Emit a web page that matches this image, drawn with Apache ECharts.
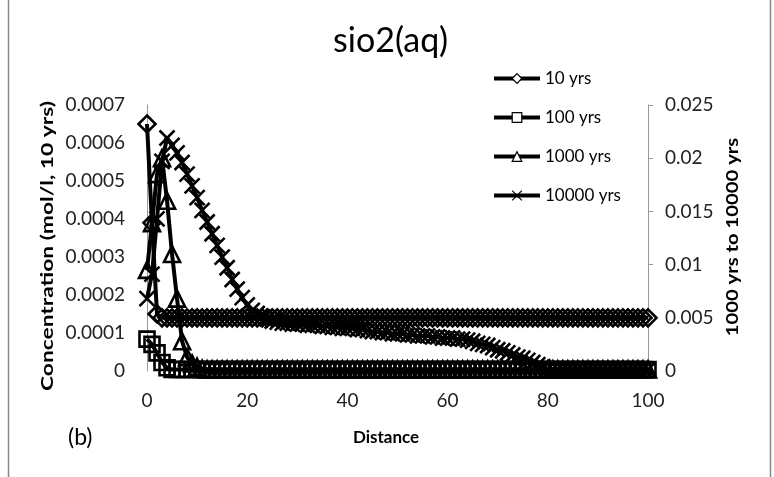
<!DOCTYPE html>
<html>
<head>
<meta charset="UTF-8">
<title>sio2(aq)</title>
<style>
    html, body { margin: 0; padding: 0; background: #fff; }
    #main { width: 774px; height: 477px; }
</style>
</head>
<body>
<div id="main"></div>
<script src="https://cdn.jsdelivr.net/npm/echarts@6/dist/echarts.min.js"></script>
<script>
// distance (x)
var dist = [
    0, 1, 2, 3, 4, 5, 6, 7, 8, 9,
    10, 11, 12, 13, 14, 15, 16, 17, 18, 19,
    20, 21, 22, 23, 24, 25, 26, 27, 28, 29,
    30, 31, 32, 33, 34, 35, 36, 37, 38, 39,
    40, 41, 42, 43, 44, 45, 46, 47, 48, 49,
    50, 51, 52, 53, 54, 55, 56, 57, 58, 59,
    60, 61, 62, 63, 64, 65, 66, 67, 68, 69,
    70, 71, 72, 73, 74, 75, 76, 77, 78, 79,
    80, 81, 82, 83, 84, 85, 86, 87, 88, 89,
    90, 91, 92, 93, 94, 95, 96, 97, 98, 99,
    100
];
// 10 yrs (left axis)
var yrs10 = [
    0.00065, 0.00039, 0.00015, 0.00014, 0.00014, 0.00014, 0.00014, 0.00014, 0.00014, 0.00014,
    0.00014, 0.00014, 0.00014, 0.00014, 0.00014, 0.00014, 0.00014, 0.00014, 0.00014, 0.00014,
    0.00014, 0.00014, 0.00014, 0.00014, 0.00014, 0.00014, 0.00014, 0.00014, 0.00014, 0.00014,
    0.00014, 0.00014, 0.00014, 0.00014, 0.00014, 0.00014, 0.00014, 0.00014, 0.00014, 0.00014,
    0.00014, 0.00014, 0.00014, 0.00014, 0.00014, 0.00014, 0.00014, 0.00014, 0.00014, 0.00014,
    0.00014, 0.00014, 0.00014, 0.00014, 0.00014, 0.00014, 0.00014, 0.00014, 0.00014, 0.00014,
    0.00014, 0.00014, 0.00014, 0.00014, 0.00014, 0.00014, 0.00014, 0.00014, 0.00014, 0.00014,
    0.00014, 0.00014, 0.00014, 0.00014, 0.00014, 0.00014, 0.00014, 0.00014, 0.00014, 0.00014,
    0.00014, 0.00014, 0.00014, 0.00014, 0.00014, 0.00014, 0.00014, 0.00014, 0.00014, 0.00014,
    0.00014, 0.00014, 0.00014, 0.00014, 0.00014, 0.00014, 0.00014, 0.00014, 0.00014, 0.00014,
    0.00014
];
// 100 yrs (right axis)
var yrs100 = [
    0.0030, 0.0025, 0.0017, 0.0008, 0.0003, 0.00014, 0.00014, 0.00014, 0.00014, 0.00014,
    0.00014, 0.00014, 0.00014, 0.00014, 0.00014, 0.00014, 0.00014, 0.00014, 0.00014, 0.00014,
    0.00014, 0.00014, 0.00014, 0.00014, 0.00014, 0.00014, 0.00014, 0.00014, 0.00014, 0.00014,
    0.00014, 0.00014, 0.00014, 0.00014, 0.00014, 0.00014, 0.00014, 0.00014, 0.00014, 0.00014,
    0.00014, 0.00014, 0.00014, 0.00014, 0.00014, 0.00014, 0.00014, 0.00014, 0.00014, 0.00014,
    0.00014, 0.00014, 0.00014, 0.00014, 0.00014, 0.00014, 0.00014, 0.00014, 0.00014, 0.00014,
    0.00014, 0.00014, 0.00014, 0.00014, 0.00014, 0.00014, 0.00014, 0.00014, 0.00014, 0.00014,
    0.00014, 0.00014, 0.00014, 0.00014, 0.00014, 0.00014, 0.00014, 0.00014, 0.00014, 0.00014,
    0.00014, 0.00014, 0.00014, 0.00014, 0.00014, 0.00014, 0.00014, 0.00014, 0.00014, 0.00014,
    0.00014, 0.00014, 0.00014, 0.00014, 0.00014, 0.00014, 0.00014, 0.00014, 0.00014, 0.00014,
    0.00014
];
// 1000 yrs (right axis)
var yrs1000 = [
    0.0095, 0.0139, 0.0185, 0.0200, 0.0160, 0.0110, 0.0068, 0.0028, 0.0013, 0.0007,
    0.0004, 0.0002, 0.00014, 0.00014, 0.00014, 0.00014, 0.00014, 0.00014, 0.00014, 0.00014,
    0.00014, 0.00014, 0.00014, 0.00014, 0.00014, 0.00014, 0.00014, 0.00014, 0.00014, 0.00014,
    0.00014, 0.00014, 0.00014, 0.00014, 0.00014, 0.00014, 0.00014, 0.00014, 0.00014, 0.00014,
    0.00014, 0.00014, 0.00014, 0.00014, 0.00014, 0.00014, 0.00014, 0.00014, 0.00014, 0.00014,
    0.00014, 0.00014, 0.00014, 0.00014, 0.00014, 0.00014, 0.00014, 0.00014, 0.00014, 0.00014,
    0.00014, 0.00014, 0.00014, 0.00014, 0.00014, 0.00014, 0.00014, 0.00014, 0.00014, 0.00014,
    0.00014, 0.00014, 0.00014, 0.00014, 0.00014, 0.00014, 0.00014, 0.00014, 0.00014, 0.00014,
    0.00014, 0.00014, 0.00014, 0.00014, 0.00014, 0.00014, 0.00014, 0.00014, 0.00014, 0.00014,
    0.00014, 0.00014, 0.00014, 0.00014, 0.00014, 0.00014, 0.00014, 0.00014, 0.00014, 0.00014,
    0.00014
];
// 10000 yrs (right axis)
var yrs10000 = [
    0.0068, 0.0091, 0.0143, 0.0197, 0.0219, 0.0212, 0.0205, 0.0196, 0.0185, 0.0174,
    0.0163, 0.0151, 0.0140, 0.0129, 0.0118, 0.0107, 0.0097, 0.0086, 0.0077, 0.0069,
    0.0062, 0.0057, 0.0054, 0.0051, 0.0049, 0.0047, 0.0046, 0.0045, 0.0045, 0.0044,
    0.0044, 0.0044, 0.0043, 0.0043, 0.0043, 0.0042, 0.0042, 0.0041, 0.0041, 0.0040,
    0.0040, 0.0040, 0.0039, 0.0039, 0.0038, 0.0037, 0.0037, 0.0036, 0.0036, 0.0035,
    0.0035, 0.0035, 0.0034, 0.0034, 0.0033, 0.0033, 0.0033, 0.0032, 0.0032, 0.0031,
    0.0031, 0.0031, 0.0030, 0.0030, 0.0029, 0.0028, 0.0026, 0.0025, 0.0024, 0.0022,
    0.0020, 0.0019, 0.0017, 0.0015, 0.0013, 0.0012, 0.0010, 0.0008, 0.0006, 0.0004,
    0.0002, 0.00015, 0.00014, 0.00014, 0.00014, 0.00014, 0.00014, 0.00014, 0.00014, 0.00014,
    0.00014, 0.00014, 0.00014, 0.00014, 0.00014, 0.00014, 0.00014, 0.00014, 0.00014, 0.00014,
    0.00014
];
var names = ['10 yrs', '100 yrs', '1000 yrs', '10000 yrs'];
var leftTicks = [0, 0.0007, 0.0001];
var rightTicks = [0, 0.025, 0.005];

var FONT = 'Lato';
var crossPath = 'path://M0,0L10,10M10,0L0,10';

function pairs(ys) {
    return dist.map(function (x, i) { return [x, ys[i]]; });
}

function makeSeries(name, ys, axisIdx, symbol, size) {
    return {
        name: name,
        type: 'line',
        yAxisIndex: axisIdx,
        data: pairs(ys),
        symbol: symbol,
        symbolSize: size,
        showSymbol: true,
        animation: false,
        lineStyle: { color: '#000', width: 4 },
        itemStyle: { color: 'rgba(255,255,255,0)', borderColor: '#000', borderWidth: 2.6 }
    };
}

function fmt(v) {
    return v === 0 ? '0' : String(+v.toFixed(4));
}

var chart = echarts.init(document.getElementById('main'));
chart.setOption({
    backgroundColor: '#fff',
    textStyle: { fontFamily: FONT },
    title: {
        text: 'sio2(aq)',
        left: 328,
        top: 19,
        textStyle: { fontFamily: FONT, fontSize: 34, fontWeight: 'normal', color: '#000' }
    },
    legend: {
        orient: 'vertical',
        left: 487,
        top: 65,
        itemWidth: 46,
        itemHeight: 12,
        itemGap: 22,
        data: names,
        lineStyle: { color: '#000', width: 4 },
        itemStyle: { color: '#fff', borderColor: '#000', borderWidth: 1.2 },
        textStyle: { fontFamily: FONT, fontSize: 17, color: '#000' }
    },
    grid: { left: 147, right: 126, top: 105, bottom: 106 },
    xAxis: {
        type: 'value',
        min: 0,
        max: 100,
        interval: 20,
        axisLine: { show: false },
        axisTick: { show: false },
        splitLine: { show: false },
        axisLabel: { fontFamily: FONT, fontSize: 19, color: '#222', margin: 20 }
    },
    yAxis: [{
        type: 'value',
        position: 'left',
        min: leftTicks[0],
        max: leftTicks[1],
        interval: leftTicks[2],
        axisLine: { show: true, lineStyle: { color: '#999', width: 1 } },
        axisTick: { show: false },
        splitLine: { show: false },
        axisLabel: { fontFamily: FONT, fontSize: 19, color: '#222', margin: 22, formatter: fmt }
    }, {
        type: 'value',
        position: 'right',
        min: rightTicks[0],
        max: rightTicks[1],
        interval: rightTicks[2],
        axisLine: { show: true, lineStyle: { color: '#999', width: 1 } },
        axisTick: { show: true, inside: false, length: 5, lineStyle: { color: '#999' } },
        splitLine: { show: false },
        axisLabel: { fontFamily: FONT, fontSize: 19, color: '#222', margin: 17, formatter: fmt }
    }],
    graphic: [{
        type: 'rect',
        shape: { x: 8.5, y: -5, width: 762, height: 490 },
        style: { fill: 'none', stroke: '#888', lineWidth: 1.5 },
        silent: true
    }, {
        type: 'text',
        x: 48,
        y: 246,
        rotation: Math.PI / 2,
        scaleX: 1.34,
        silent: true,
        style: {
            text: 'Concentration (mol/l, 10 yrs)',
            font: 'bold 17px ' + FONT,
            fill: '#000',
            align: 'center',
            verticalAlign: 'middle'
        }
    }, {
        type: 'text',
        x: 733,
        y: 237,
        rotation: Math.PI / 2,
        scaleX: 1.19,
        silent: true,
        style: {
            text: '1000 yrs to 10000 yrs',
            font: 'bold 17px ' + FONT,
            fill: '#000',
            align: 'center',
            verticalAlign: 'middle'
        }
    }, {
        type: 'text',
        x: 386,
        y: 438,
        silent: true,
        style: {
            text: 'Distance',
            font: 'bold 17px ' + FONT,
            fill: '#000',
            align: 'center',
            verticalAlign: 'middle'
        }
    }, {
        type: 'text',
        x: 68,
        y: 438,
        silent: true,
        style: {
            text: '(b)',
            font: '23px ' + FONT,
            fill: '#000',
            align: 'left',
            verticalAlign: 'middle'
        }
    }],
    series: [
        makeSeries(names[0], yrs10, 0, 'diamond', 17),
        makeSeries(names[1], yrs100, 1, 'rect', 15),
        makeSeries(names[2], yrs1000, 1, 'triangle', 16),
        makeSeries(names[3], yrs10000, 1, crossPath, 15)
    ]
});
</script>
</body>
</html>
